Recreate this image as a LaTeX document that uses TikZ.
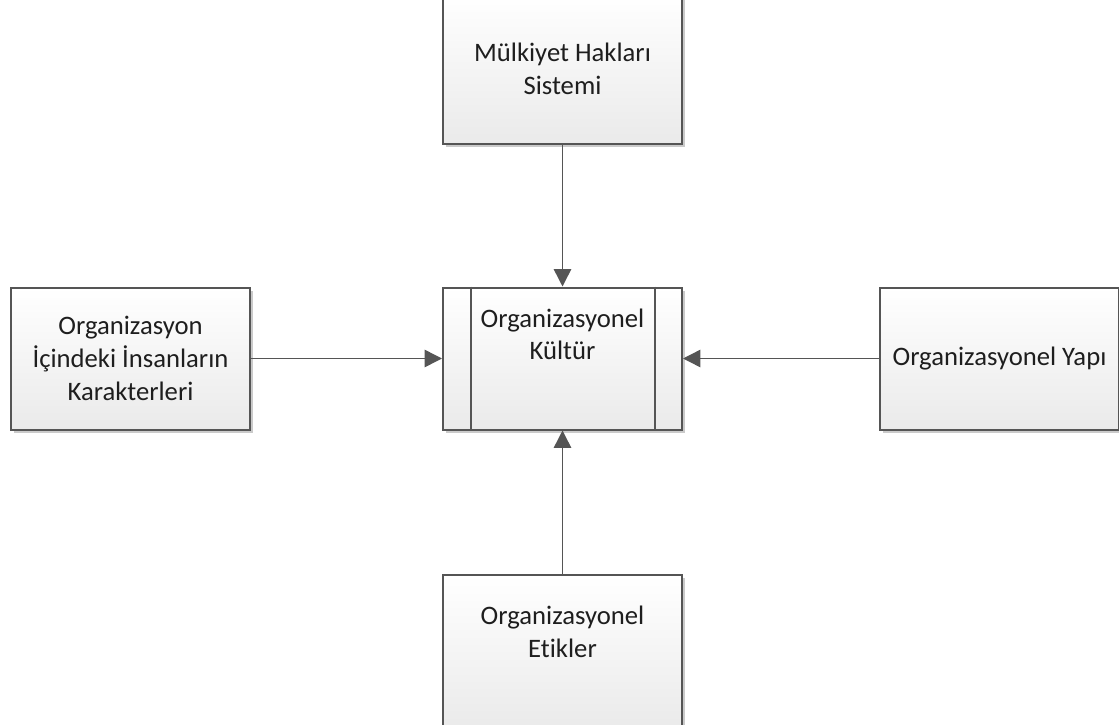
\documentclass[tikz,border=0pt]{standalone}
\usepackage{fontspec}
\setmainfont[Ligatures=NoCommon]{Carlito}
\usetikzlibrary{arrows.meta,shadows,calc}

\tikzset{every picture/.style={line width=0.75pt}}
\tikzset{
	kutu/.style={draw={rgb,255:red,85;green,85;blue,85}, line width=1.5pt,
		top color=white, bottom color={rgb,255:red,234;green,234;blue,234},
		drop shadow={shadow xshift=2pt, shadow yshift=-2.5pt, fill=black!35, opacity=0.6},
		minimum width=179.25pt, minimum height=106.5pt, inner sep=0pt,
		align=center, font=\fontsize{20}{24.5}\selectfont, text={rgb,255:red,30;green,30;blue,30}},
	ok/.style={draw={rgb,255:red,85;green,85;blue,85}, line width=1.1pt,
		-{Triangle[length=13pt,width=13pt]}}
}

\begin{document}
\begin{tikzpicture}[x=0.75pt,y=0.75pt,yscale=-1,xscale=1]
	\useasboundingbox (0,0) rectangle (1119,724);
	
	%Boxes
	\node [kutu, minimum height=112.5pt] (mulkiyet) at (562.5,69) {Mülkiyet Hakları\\Sistemi};
	\node [kutu] (kultur) at (562.5,358.5) {Organizasyonel\\Kültür\\[12pt]};
	\node [kutu] (insan) at (130.5,358.5) {Organizasyon\\İçindeki İnsanların\\Karakterleri};
	\node [kutu] (yapi) at (999.5,358.5) {Organizasyonel Yapı};
	\node [kutu, minimum height=116pt] (etik) at (562.5,652) {Organizasyonel\\Etikler\\[6pt]};
	
	%Inner lines of the centre box
	\draw [draw={rgb,255:red,85;green,85;blue,85}, line width=1.5pt] ($(kultur.north west)+(29,0)$) -- ($(kultur.south west)+(29,0)$) ;
	\draw [draw={rgb,255:red,85;green,85;blue,85}, line width=1.5pt] ($(kultur.north east)+(-28,0)$) -- ($(kultur.south east)+(-28,0)$) ;
	
	%Connectors
	\draw [ok] (mulkiyet) -- (kultur) ;
	\draw [ok] (insan) -- (kultur) ;
	\draw [ok] (yapi) -- (kultur) ;
	\draw [ok] (etik) -- (kultur) ;
	
\end{tikzpicture}
\end{document}
